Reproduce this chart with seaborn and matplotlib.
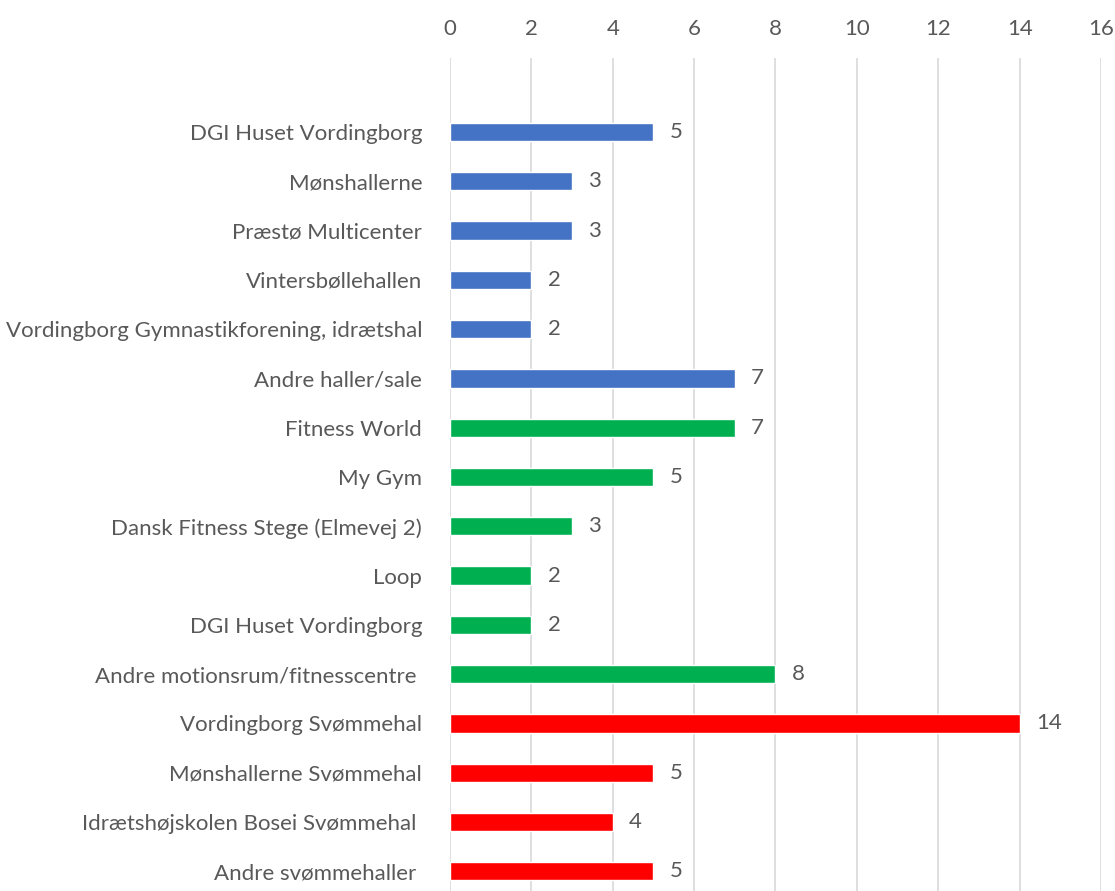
import pandas as pd
import numpy as np
import matplotlib.pyplot as plt
import seaborn as sns

# ----------------------------
# DATA
# ----------------------------
labels = [
    "DGI Huset Vordingborg",
    "Mønshallerne",
    "Præstø Multicenter",
    "Vintersbøllehallen",
    "Vordingborg Gymnastikforening, idrætshal",
    "Andre haller/sale",
    "Fitness World",
    "My Gym",
    "Dansk Fitness Stege (Elmevej 2)",
    "Loop",
    "DGI Huset Vordingborg",
    "Andre motionsrum/fitnesscentre ",
    "Vordingborg Svømmehal",
    "Mønshallerne Svømmehal",
    "Idrætshøjskolen Bosei Svømmehal ",
    "Andre svømmehaller ",
]
values = [5, 3, 3, 2, 2, 7, 7, 5, 3, 2, 2, 8, 14, 5, 4, 5]
groups = ["hal"] * 6 + ["fitness"] * 6 + ["svom"] * 4
group_colors = {"hal": "#4472C4", "fitness": "#00B050", "svom": "#FF0000"}
xticks = [0, 2, 4, 6, 8, 10, 12, 14, 16]

df = pd.DataFrame({"pos": range(len(labels)), "value": values, "group": groups})

# ----------------------------
# PLOT
# ----------------------------
sns.set_style("white")
plt.rcParams["font.family"] = ["Lato", "DejaVu Sans"]
gray = "#595959"

fig = plt.figure(figsize=(11.15, 8.91), dpi=100)
ax = fig.add_axes([0.4036, -0.0056, 0.5838, 0.9405])

sns.barplot(data=df, x="value", y="pos", hue="group", palette=group_colors,
            orient="h", dodge=False, width=0.37, legend=False, ax=ax,
            saturation=1)

ax.set_ylim(15.5, -1.5)
ax.set_xlim(0, 16)
ax.set_yticks(range(len(labels)))
ax.set_yticklabels(labels, fontsize=16, color=gray)
ax.set_xticks(xticks)
ax.set_xticklabels([str(t) for t in xticks], fontsize=16, color=gray)
ax.xaxis.tick_top()
ax.tick_params(axis="x", length=0, pad=14)
ax.tick_params(axis="y", length=0, pad=20)
ax.set_xlabel("")
ax.set_ylabel("")
ax.grid(axis="x", color="#D9D9D9", linewidth=1.2)
ax.set_axisbelow(True)
for s in ax.spines.values():
    s.set_visible(False)

for p, v in zip(df["pos"], df["value"]):
    ax.text(v + 0.4, p, str(v), va="center", ha="left", fontsize=16, color=gray)

fig.savefig("out.png", dpi=100)
